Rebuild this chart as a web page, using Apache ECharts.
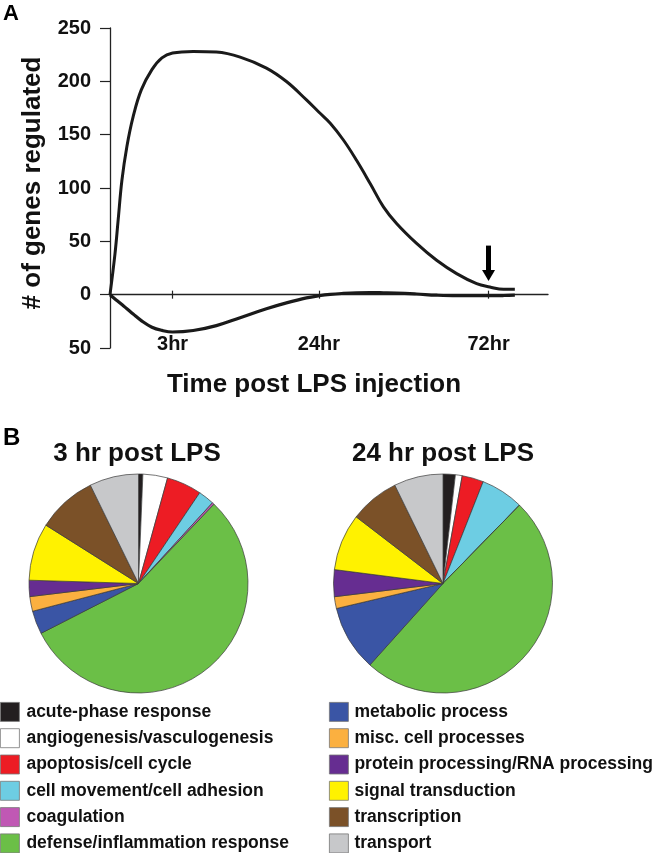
<!DOCTYPE html>
<html><head><meta charset="utf-8">
<script src="https://cdn.jsdelivr.net/npm/echarts@6/dist/echarts.min.js"></script>
<style>html,body{margin:0;padding:0;background:#fff}#c{width:655px;height:853px}</style>
</head><body><div id="c"></div>
<script>
// ---- Panel A: time course (x = position along the drawn time axis) ----
const timePos      = [0, 0.08, 0.13, 0.19, 0.27, 0.37, 0.5, 0.67, 0.83, 1.0, 1.33, 1.7, 2.08, 2.5, 2.82, 3.14, 3.34, 3.52, 3.73, 3.94, 4.16, 4.37, 4.58, 4.9, 5.22, 5.54, 5.86, 6.07, 6.29, 6.47];
const upregulated  = [0, 38.5, 69.8, 107, 139, 167, 192, 211, 222, 226.5, 228, 227.4, 222.7, 212.4, 199.8, 182.6, 171, 160.7, 145, 126, 104, 82.3, 66.7, 48, 32.2, 19.7, 10.3, 7.2, 5, 5];
const downregulated= [0, -4, -6.4, -9.3, -13.2, -18.2, -24.3, -30.5, -33.5, -35, -33.6, -29, -21.6, -13.2, -7.7, -3, -1, 0.3, 1.2, 1.8, 2, 1.8, 1.5, 0.6, -0.5, -1, -1, -1, -0.8, -0.4];
const timeTickPos    = [1, 3.34, 6.05];
const timeTickLabels = ['3hr', '24hr', '72hr'];
const arrowX = 6.05, arrowFrom = 46, arrowTo = 18;

// ---- Panel B: functional categories (% of regulated genes) ----
const categories = ['acute-phase response','angiogenesis/vasculogenesis','apoptosis/cell cycle','cell movement/cell adhesion','coagulation','defense/inflammation response','metabolic process','misc. cell processes','protein processing/RNA processing','signal transduction','transcription','transport'];
const catColors  = ['#231f20','#ffffff','#ed1c24','#6dcde3','#c058b4','#6bbf47','#3a55a5','#fbb040','#662d91','#fff200','#7b5128','#c7c8ca'];
const pct3hr  = [0.64, 3.64, 5.17, 2.36, 0.31, 55.39, 3.44, 2.17, 2.39, 8.47, 8.81, 7.25];
const pct24hr = [1.81, 1.00, 3.17, 6.33, 0, 49.33, 9.69, 1.74, 3.96, 8.39, 7.33, 7.25];

const FF = '"Liberation Sans", Arial, Helvetica, sans-serif';
const chart = echarts.init(document.getElementById('c'), null, {renderer: 'canvas'});

function pieData(vals) {
  return categories.map((n, i) => ({name: n, value: vals[i], itemStyle: {color: catColors[i]}}));
}
const pieCommon = {
  type: 'pie', radius: 109.5, startAngle: 90, clockwise: true, silent: true,
  label: {show: false}, labelLine: {show: false}, emphasis: {disabled: true},
  itemStyle: {borderColor: '#3a3a3a', borderWidth: 0.7}, animation: false
};
const axisText = {fontFamily: FF, fontSize: 20, fontWeight: 'bold', color: '#111'};
const legendCommon = {
  orient: 'vertical', top: 702, height: 180, padding: 0,
  itemWidth: 19, itemHeight: 19, itemGap: 6.5, icon: 'rect', selectedMode: false,
  itemStyle: {borderColor: '#777', borderWidth: 0.8}
};

chart.setOption({
  animation: false,
  grid: {left: 110, right: 107, top: 28, height: 320},
  xAxis: [{
    type: 'value', min: 0, max: 7,
    axisLine: {onZero: true, onZeroAxisIndex: 0, lineStyle: {color: '#222', width: 1.3}},
    axisTick: {customValues: timeTickPos, length: 4, lineStyle: {color: '#222', width: 1.2}},
    axisLabel: Object.assign({customValues: timeTickPos, margin: -14,
      formatter: v => timeTickLabels[timeTickPos.indexOf(v)] || ''}, axisText),
    splitLine: {show: false}
  }, {
    type: 'value', min: 0, max: 7, position: 'bottom',
    axisLine: {show: false, onZero: true, onZeroAxisIndex: 0},
    axisTick: {customValues: timeTickPos, inside: true, length: 4, lineStyle: {color: '#222', width: 1.2}},
    axisLabel: {show: false}, splitLine: {show: false}
  }],
  yAxis: {
    type: 'value', min: -50, max: 250, interval: 50,
    axisLine: {show: true, onZero: false, lineStyle: {color: '#222', width: 1.3}},
    axisTick: {show: true, length: 10, lineStyle: {color: '#222', width: 1.2}},
    axisLabel: Object.assign({margin: 19, formatter: v => String(Math.abs(v))}, axisText),
    splitLine: {show: false}
  },
  legend: [
    Object.assign({data: categories.slice(0, 6), left: 0,
      textStyle: {fontFamily: FF, fontSize: 17.5, fontWeight: 'bold', color: '#111', lineHeight: 19, padding: [0, 0, 0, 2]}}, legendCommon),
    Object.assign({data: categories.slice(6), left: 329,
      textStyle: {fontFamily: FF, fontSize: 17.5, fontWeight: 'bold', color: '#111', lineHeight: 19, padding: [0, 0, 0, 1]}}, legendCommon)
  ],
  series: [{
    name: 'up', type: 'line', smooth: 0.4, showSymbol: false, silent: true,
    data: timePos.map((t, i) => [t, upregulated[i]]),
    lineStyle: {color: '#1a1a1a', width: 3},
    markLine: {
      silent: true, symbol: ['none', 'triangle'], symbolSize: [13, 11],
      label: {show: false}, emphasis: {disabled: true},
      lineStyle: {color: '#000', width: 5, type: 'solid'},
      data: [[{coord: [arrowX, arrowFrom]}, {coord: [arrowX, arrowTo]}]]
    }
  }, {
    name: 'down', type: 'line', smooth: 0.4, showSymbol: false, silent: true,
    data: timePos.map((t, i) => [t, downregulated[i]]),
    lineStyle: {color: '#1a1a1a', width: 3.2}
  },
  Object.assign({name: '3 hr post LPS', center: [138.5, 583.5], data: pieData(pct3hr)}, pieCommon),
  Object.assign({name: '24 hr post LPS', center: [443, 583.5], data: pieData(pct24hr)}, pieCommon)
  ],
  graphic: [
    {type: 'text', left: 3, top: 3, style: {text: 'A', font: 'bold 22px ' + FF, fill: '#000'}},
    {type: 'text', left: 3, top: 426, style: {text: 'B', font: 'bold 24px ' + FF, fill: '#000'}},
    {type: 'text', x: 33, y: 183, rotation: Math.PI / 2,
      style: {text: '# of genes regulated', font: 'bold 26px ' + FF, fill: '#111', align: 'center', verticalAlign: 'middle'}},
    {type: 'text', x: 314, y: 385,
      style: {text: 'Time post LPS injection', font: 'bold 26px ' + FF, fill: '#111', align: 'center', verticalAlign: 'middle'}},
    {type: 'text', x: 137, y: 454,
      style: {text: '3 hr post LPS', font: 'bold 26px ' + FF, fill: '#111', align: 'center', verticalAlign: 'middle'}},
    {type: 'text', x: 443, y: 454,
      style: {text: '24 hr post LPS', font: 'bold 26px ' + FF, fill: '#111', align: 'center', verticalAlign: 'middle'}}
  ]
});
</script></body></html>
